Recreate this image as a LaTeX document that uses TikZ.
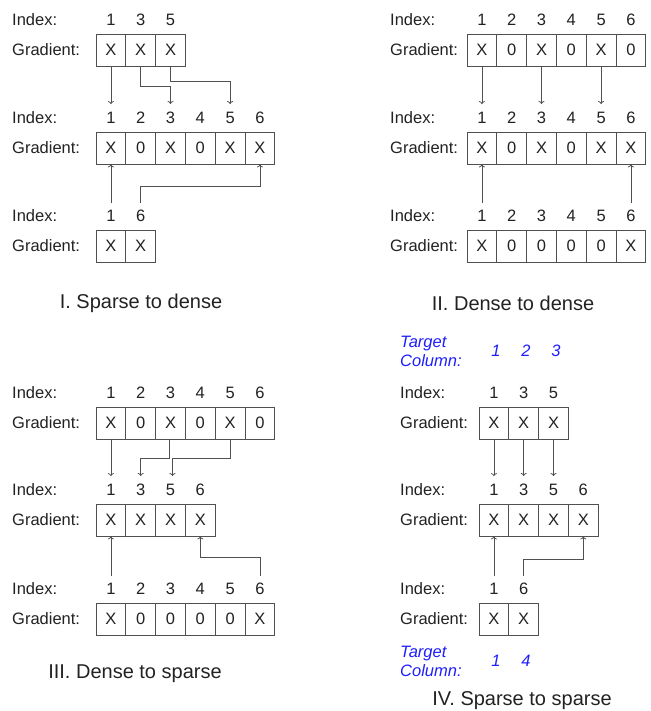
\documentclass[tikz,border=0pt]{standalone}
\usepackage{fontspec}
\setmainfont{Liberation Sans}
\usetikzlibrary{arrows.meta}
\definecolor{ink}{HTML}{222222}
\definecolor{rule}{HTML}{505050}
\definecolor{target}{HTML}{1E1EFF}
\newcommand{\labsize}{\fontsize{16.5}{19}\selectfont}
\newcommand{\capsize}{\fontsize{20}{24}\selectfont}
% one row of gradient cells with its index numbers: name, label x, cell left edge, centre y, index/value list
\newcommand{\gradrow}[5]{%
  \node[lab] (idx#1) at (#2,{#4-30}) {Index:};
  \node[lab] (grd#1) at (#2,#4) {Gradient:};
  \foreach \n/\v [count=\k] in {#5}{
    \node[cell] (c#1-\k) at ({#3+14.9+29.8*(\k-1)},#4) {\v};
    \node[num] (n#1-\k) at ({#3+14.9+29.8*(\k-1)},{#4-30}) {\n};
  }}

\begin{document}
\begin{tikzpicture}[x=1pt,y=-1pt,>={To[length=3pt,width=6pt]},
  every node/.style={text=ink,font=\labsize},
  lab/.style={anchor=west,inner sep=0pt},
  num/.style={inner sep=0pt},
  cell/.style={draw=rule,line width=0.8pt,minimum width=29.8pt,minimum height=32pt,inner sep=0pt},
  link/.style={->,draw=rule,line width=0.8pt},
  tgt/.style={text=target,font=\labsize\itshape,inner sep=0pt}]
\useasboundingbox (0,0) rectangle (650,711);

% I. sparse to dense
\gradrow{1a}{12}{96}{50}{1/X,3/X,5/X}
\gradrow{1b}{12}{96}{148}{1/X,2/0,3/X,4/0,5/X,6/X}
\gradrow{1c}{12}{96}{246}{1/X,6/X}
\draw[link,shorten >=8pt] (c1a-1.south) -- (n1b-1.north);
\draw[link,shorten >=8pt] (c1a-2.south) -- ++(0,20) -| (n1b-3.north);
\draw[link,shorten >=8pt] (c1a-3.south) -- ++(0,15) -| (n1b-5.north);
\draw[link,shorten <=7pt] (n1c-1.north) -- (c1b-1.south);
\draw[link,shorten <=7pt] (n1c-2.north) -- ++(0,-24) -| (c1b-6.south);
\node[font=\capsize] (cap1) at (141,303) {I. Sparse to dense};

% II. dense to dense
\gradrow{2a}{390}{467}{50}{1/X,2/0,3/X,4/0,5/X,6/0}
\gradrow{2b}{390}{467}{148}{1/X,2/0,3/X,4/0,5/X,6/X}
\gradrow{2c}{390}{467}{246}{1/X,2/0,3/0,4/0,5/0,6/X}
\draw[link,shorten >=8pt] (c2a-1.south) -- (n2b-1.north);
\draw[link,shorten >=8pt] (c2a-3.south) -- (n2b-3.north);
\draw[link,shorten >=8pt] (c2a-5.south) -- (n2b-5.north);
\draw[link,shorten <=7pt] (n2c-1.north) -- (c2b-1.south);
\draw[link,shorten <=7pt] (n2c-6.north) -- (c2b-6.south);
\node[font=\capsize] (cap2) at (513,303) {II. Dense to dense};

% III. dense to sparse
\gradrow{3a}{12}{96}{423}{1/X,2/0,3/X,4/0,5/X,6/0}
\gradrow{3b}{12}{96}{520}{1/X,3/X,5/X,6/X}
\gradrow{3c}{12}{96}{619}{1/X,2/0,3/0,4/0,5/0,6/X}
\draw[link,shorten >=8pt] (c3a-1.south) -- (n3b-1.north);
\draw[link,shorten >=8pt] ([xshift=-1pt]c3a-3.south) -- ++(0,19) -| (n3b-2.north);
\draw[link,shorten >=8pt] (c3a-5.south) -- ++(0,19) -| ([xshift=2pt]n3b-3.north);
\draw[link,shorten <=7pt] (n3c-1.north) -- (c3b-1.south);
\draw[link,shorten <=7pt] (n3c-6.north) -- ++(0,-26) -| (c3b-4.south);
\node[font=\capsize] (cap3) at (135,674) {III. Dense to sparse};

% IV. sparse to sparse
\node[tgt,anchor=west,align=left] (tc4a) at (400,351) {Target\\Column:};
\node[tgt] (t4a-1) at (496,351) {1};
\node[tgt] (t4a-2) at (526,351) {2};
\node[tgt] (t4a-3) at (556,351) {3};
\gradrow{4a}{400}{479}{423}{1/X,3/X,5/X}
\gradrow{4b}{400}{479}{520}{1/X,3/X,5/X,6/X}
\gradrow{4c}{400}{479}{619}{1/X,6/X}
\node[tgt,anchor=west,align=left] (tc4c) at (400,661) {Target\\Column:};
\node[tgt] (t4c-1) at (496,661) {1};
\node[tgt] (t4c-2) at (526,661) {4};
\draw[link,shorten >=8pt] (c4a-1.south) -- (n4b-1.north);
\draw[link,shorten >=8pt] (c4a-2.south) -- (n4b-2.north);
\draw[link,shorten >=8pt] (c4a-3.south) -- (n4b-3.north);
\draw[link,shorten <=7pt] (n4c-1.north) -- (c4b-1.south);
\draw[link,shorten <=7pt] (n4c-2.north) -- ++(0,-24) -| (c4b-4.south);
\node[font=\capsize] (cap4) at (522,701) {IV. Sparse to sparse};
\end{tikzpicture}
\end{document}
